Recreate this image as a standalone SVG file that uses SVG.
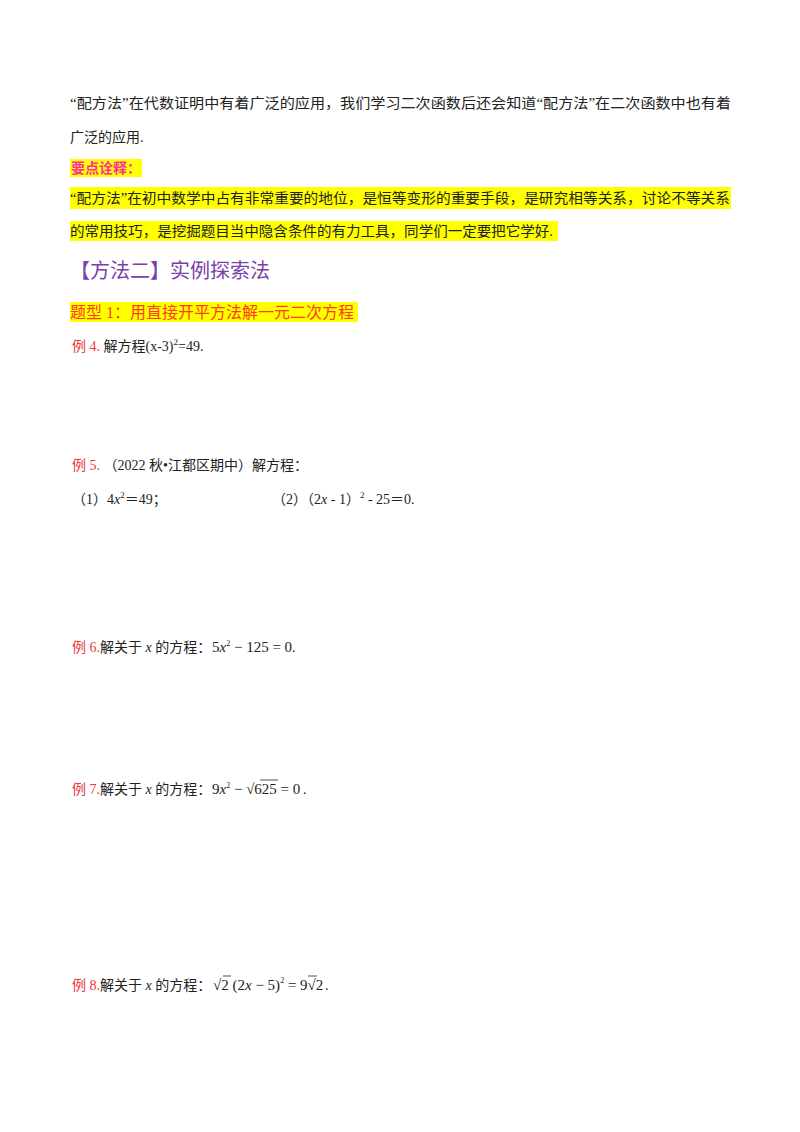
<svg xmlns="http://www.w3.org/2000/svg" width="800" height="1132" viewBox="0 0 800 1132">
<style>
text{font-family:"Liberation Serif","Noto Sans CJK SC",serif;font-size:14px;fill:#222}
.r{fill:#e8383d}
.m{font-family:"Liberation Serif",serif;font-size:15px}
.i{font-style:italic}
.hl{fill:#ffff00}
</style>
<rect width="800" height="1132" fill="#fff"/>
<g id="intro">
<text x="70" y="108" textLength="661" lengthAdjust="spacingAndGlyphs">“配方法”在代数证明中有着广泛的应用，我们学习二次函数后还会知道“配方法”在二次函数中也有着</text>
<text x="70" y="142">广泛的应用.</text>
</g>
<g id="keypoint">
<rect class="hl" x="70" y="159" width="72" height="18"/>
<text x="71" y="173" style="fill:#ff2fa0;font-weight:bold">要点诠释：</text>
<rect class="hl" x="70" y="187" width="661" height="22"/>
<text x="70" y="203" textLength="660" lengthAdjust="spacingAndGlyphs">“配方法”在初中数学中占有非常重要的地位，是恒等变形的重要手段，是研究相等关系，讨论不等关系</text>
<rect class="hl" x="70" y="221" width="488" height="20"/>
<text x="70" y="236" textLength="483" lengthAdjust="spacingAndGlyphs">的常用技巧，是挖掘题目当中隐含条件的有力工具，同学们一定要把它学好.</text>
</g>
<g id="method2">
<text x="70" y="278" style="font-size:20px;fill:#7a3fa8">【方法二】实例探索法</text>
</g>
<g id="type1">
<rect class="hl" x="70" y="302" width="288" height="20"/>
<text x="70" y="318" style="font-size:16px;fill:#ff3b1f">题型 1：用直接开平方法解一元二次方程</text>
</g>
<g id="ex4">
<text x="72" y="351"><tspan class="r">例 4.</tspan> 解方程(x-3)<tspan dy="-6" font-size="9">2</tspan><tspan dy="6">=49.</tspan></text>
</g>
<g id="ex5">
<text x="72" y="470"><tspan class="r">例 5.</tspan> （2022 秋•江都区期中）解方程：</text>
<text x="72" y="504">（1）4<tspan class="i">x</tspan><tspan dy="-6" font-size="9">2</tspan><tspan dy="6">＝49；</tspan></text>
<text x="272" y="504">（2）（2<tspan class="i">x</tspan> - 1）<tspan dy="-6" font-size="9">2</tspan><tspan dy="6"> - 25＝0.</tspan></text>
</g>
<g id="ex6">
<text x="72" y="652"><tspan class="r">例 6.</tspan>解关于 <tspan class="i">x</tspan> 的方程：</text>
<text class="m" x="212" y="652">5<tspan class="i">x</tspan><tspan dy="-6" font-size="8">2</tspan><tspan dy="6"> − 125 = 0</tspan></text>
<text x="292" y="652">.</text>
</g>
<g id="ex7">
<text x="72" y="794"><tspan class="r">例 7.</tspan>解关于 <tspan class="i">x</tspan> 的方程：</text>
<text class="m" x="212" y="794">9<tspan class="i">x</tspan><tspan dy="-6" font-size="8">2</tspan><tspan dy="6"> − √625 = 0</tspan></text>
<line x1="260" y1="780" x2="278" y2="780" stroke="#222" stroke-width="0.8"/>
<text x="303" y="794">.</text>
</g>
<g id="ex8">
<text x="72" y="990"><tspan class="r">例 8.</tspan>解关于 <tspan class="i">x</tspan> 的方程：</text>
<text class="m" x="213" y="990">√2 (2<tspan class="i">x</tspan> − 5)<tspan dy="-7" font-size="8">2</tspan><tspan dy="7"> = 9√2</tspan></text>
<line x1="223" y1="976" x2="231" y2="976" stroke="#222" stroke-width="0.8"/>
<line x1="308" y1="976" x2="317" y2="976" stroke="#222" stroke-width="0.8"/>
<text x="325" y="990">.</text>
</g>
</svg>
